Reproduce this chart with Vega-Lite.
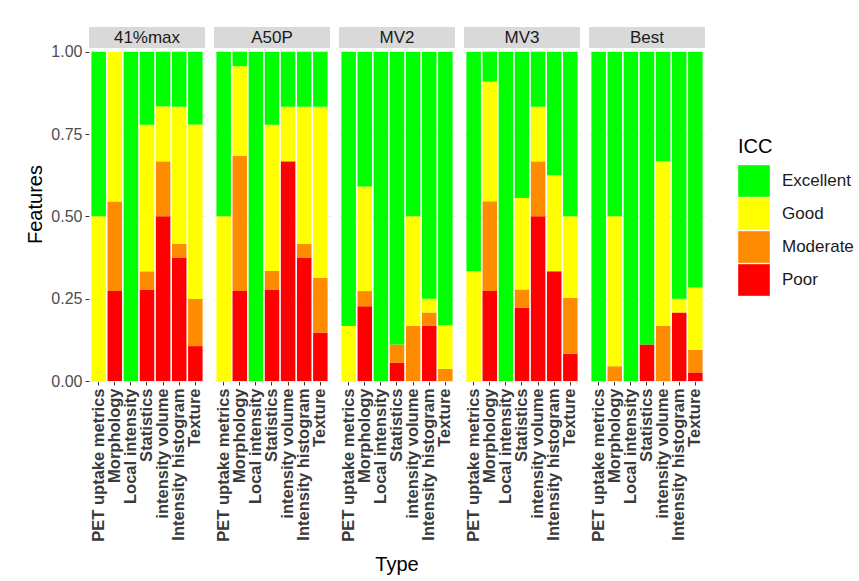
{
  "$schema": "https://vega.github.io/schema/vega-lite/v6.json",
  "padding": {"left": 25, "top": 27, "right": 5, "bottom": 5},
  "background": "white",
  "data": {"values": [
    {"Method": "41%max", "Type": "PET uptake metrics", "ICC": "Good", "value": 0.5},
    {"Method": "41%max", "Type": "PET uptake metrics", "ICC": "Excellent", "value": 0.5},
    {"Method": "41%max", "Type": "Morphology", "ICC": "Poor", "value": 0.273},
    {"Method": "41%max", "Type": "Morphology", "ICC": "Moderate", "value": 0.272},
    {"Method": "41%max", "Type": "Morphology", "ICC": "Good", "value": 0.455},
    {"Method": "41%max", "Type": "Local intensity", "ICC": "Excellent", "value": 1.0},
    {"Method": "41%max", "Type": "Statistics", "ICC": "Poor", "value": 0.278},
    {"Method": "41%max", "Type": "Statistics", "ICC": "Moderate", "value": 0.055},
    {"Method": "41%max", "Type": "Statistics", "ICC": "Good", "value": 0.445},
    {"Method": "41%max", "Type": "Statistics", "ICC": "Excellent", "value": 0.222},
    {"Method": "41%max", "Type": "intensity volume", "ICC": "Poor", "value": 0.5},
    {"Method": "41%max", "Type": "intensity volume", "ICC": "Moderate", "value": 0.167},
    {"Method": "41%max", "Type": "intensity volume", "ICC": "Good", "value": 0.167},
    {"Method": "41%max", "Type": "intensity volume", "ICC": "Excellent", "value": 0.166},
    {"Method": "41%max", "Type": "Intensity histogram", "ICC": "Poor", "value": 0.375},
    {"Method": "41%max", "Type": "Intensity histogram", "ICC": "Moderate", "value": 0.042},
    {"Method": "41%max", "Type": "Intensity histogram", "ICC": "Good", "value": 0.416},
    {"Method": "41%max", "Type": "Intensity histogram", "ICC": "Excellent", "value": 0.167},
    {"Method": "41%max", "Type": "Texture", "ICC": "Poor", "value": 0.106},
    {"Method": "41%max", "Type": "Texture", "ICC": "Moderate", "value": 0.143},
    {"Method": "41%max", "Type": "Texture", "ICC": "Good", "value": 0.53},
    {"Method": "41%max", "Type": "Texture", "ICC": "Excellent", "value": 0.221},

    {"Method": "A50P", "Type": "PET uptake metrics", "ICC": "Good", "value": 0.5},
    {"Method": "A50P", "Type": "PET uptake metrics", "ICC": "Excellent", "value": 0.5},
    {"Method": "A50P", "Type": "Morphology", "ICC": "Poor", "value": 0.273},
    {"Method": "A50P", "Type": "Morphology", "ICC": "Moderate", "value": 0.41},
    {"Method": "A50P", "Type": "Morphology", "ICC": "Good", "value": 0.273},
    {"Method": "A50P", "Type": "Morphology", "ICC": "Excellent", "value": 0.044},
    {"Method": "A50P", "Type": "Local intensity", "ICC": "Excellent", "value": 1.0},
    {"Method": "A50P", "Type": "Statistics", "ICC": "Poor", "value": 0.278},
    {"Method": "A50P", "Type": "Statistics", "ICC": "Moderate", "value": 0.056},
    {"Method": "A50P", "Type": "Statistics", "ICC": "Good", "value": 0.444},
    {"Method": "A50P", "Type": "Statistics", "ICC": "Excellent", "value": 0.222},
    {"Method": "A50P", "Type": "intensity volume", "ICC": "Poor", "value": 0.667},
    {"Method": "A50P", "Type": "intensity volume", "ICC": "Good", "value": 0.166},
    {"Method": "A50P", "Type": "intensity volume", "ICC": "Excellent", "value": 0.167},
    {"Method": "A50P", "Type": "Intensity histogram", "ICC": "Poor", "value": 0.375},
    {"Method": "A50P", "Type": "Intensity histogram", "ICC": "Moderate", "value": 0.042},
    {"Method": "A50P", "Type": "Intensity histogram", "ICC": "Good", "value": 0.416},
    {"Method": "A50P", "Type": "Intensity histogram", "ICC": "Excellent", "value": 0.167},
    {"Method": "A50P", "Type": "Texture", "ICC": "Poor", "value": 0.147},
    {"Method": "A50P", "Type": "Texture", "ICC": "Moderate", "value": 0.166},
    {"Method": "A50P", "Type": "Texture", "ICC": "Good", "value": 0.52},
    {"Method": "A50P", "Type": "Texture", "ICC": "Excellent", "value": 0.167},

    {"Method": "MV2", "Type": "PET uptake metrics", "ICC": "Good", "value": 0.167},
    {"Method": "MV2", "Type": "PET uptake metrics", "ICC": "Excellent", "value": 0.833},
    {"Method": "MV2", "Type": "Morphology", "ICC": "Poor", "value": 0.227},
    {"Method": "MV2", "Type": "Morphology", "ICC": "Moderate", "value": 0.046},
    {"Method": "MV2", "Type": "Morphology", "ICC": "Good", "value": 0.318},
    {"Method": "MV2", "Type": "Morphology", "ICC": "Excellent", "value": 0.409},
    {"Method": "MV2", "Type": "Local intensity", "ICC": "Excellent", "value": 1.0},
    {"Method": "MV2", "Type": "Statistics", "ICC": "Poor", "value": 0.055},
    {"Method": "MV2", "Type": "Statistics", "ICC": "Moderate", "value": 0.056},
    {"Method": "MV2", "Type": "Statistics", "ICC": "Excellent", "value": 0.889},
    {"Method": "MV2", "Type": "intensity volume", "ICC": "Moderate", "value": 0.167},
    {"Method": "MV2", "Type": "intensity volume", "ICC": "Good", "value": 0.333},
    {"Method": "MV2", "Type": "intensity volume", "ICC": "Excellent", "value": 0.5},
    {"Method": "MV2", "Type": "Intensity histogram", "ICC": "Poor", "value": 0.167},
    {"Method": "MV2", "Type": "Intensity histogram", "ICC": "Moderate", "value": 0.041},
    {"Method": "MV2", "Type": "Intensity histogram", "ICC": "Good", "value": 0.042},
    {"Method": "MV2", "Type": "Intensity histogram", "ICC": "Excellent", "value": 0.75},
    {"Method": "MV2", "Type": "Texture", "ICC": "Moderate", "value": 0.037},
    {"Method": "MV2", "Type": "Texture", "ICC": "Good", "value": 0.132},
    {"Method": "MV2", "Type": "Texture", "ICC": "Excellent", "value": 0.831},

    {"Method": "MV3", "Type": "PET uptake metrics", "ICC": "Good", "value": 0.333},
    {"Method": "MV3", "Type": "PET uptake metrics", "ICC": "Excellent", "value": 0.667},
    {"Method": "MV3", "Type": "Morphology", "ICC": "Poor", "value": 0.273},
    {"Method": "MV3", "Type": "Morphology", "ICC": "Moderate", "value": 0.273},
    {"Method": "MV3", "Type": "Morphology", "ICC": "Good", "value": 0.363},
    {"Method": "MV3", "Type": "Morphology", "ICC": "Excellent", "value": 0.091},
    {"Method": "MV3", "Type": "Local intensity", "ICC": "Excellent", "value": 1.0},
    {"Method": "MV3", "Type": "Statistics", "ICC": "Poor", "value": 0.222},
    {"Method": "MV3", "Type": "Statistics", "ICC": "Moderate", "value": 0.056},
    {"Method": "MV3", "Type": "Statistics", "ICC": "Good", "value": 0.278},
    {"Method": "MV3", "Type": "Statistics", "ICC": "Excellent", "value": 0.444},
    {"Method": "MV3", "Type": "intensity volume", "ICC": "Poor", "value": 0.5},
    {"Method": "MV3", "Type": "intensity volume", "ICC": "Moderate", "value": 0.167},
    {"Method": "MV3", "Type": "intensity volume", "ICC": "Good", "value": 0.166},
    {"Method": "MV3", "Type": "intensity volume", "ICC": "Excellent", "value": 0.167},
    {"Method": "MV3", "Type": "Intensity histogram", "ICC": "Poor", "value": 0.333},
    {"Method": "MV3", "Type": "Intensity histogram", "ICC": "Good", "value": 0.292},
    {"Method": "MV3", "Type": "Intensity histogram", "ICC": "Excellent", "value": 0.375},
    {"Method": "MV3", "Type": "Texture", "ICC": "Poor", "value": 0.083},
    {"Method": "MV3", "Type": "Texture", "ICC": "Moderate", "value": 0.17},
    {"Method": "MV3", "Type": "Texture", "ICC": "Good", "value": 0.247},
    {"Method": "MV3", "Type": "Texture", "ICC": "Excellent", "value": 0.5},

    {"Method": "Best", "Type": "PET uptake metrics", "ICC": "Excellent", "value": 1.0},
    {"Method": "Best", "Type": "Morphology", "ICC": "Moderate", "value": 0.045},
    {"Method": "Best", "Type": "Morphology", "ICC": "Good", "value": 0.455},
    {"Method": "Best", "Type": "Morphology", "ICC": "Excellent", "value": 0.5},
    {"Method": "Best", "Type": "Local intensity", "ICC": "Excellent", "value": 1.0},
    {"Method": "Best", "Type": "Statistics", "ICC": "Poor", "value": 0.111},
    {"Method": "Best", "Type": "Statistics", "ICC": "Excellent", "value": 0.889},
    {"Method": "Best", "Type": "intensity volume", "ICC": "Moderate", "value": 0.167},
    {"Method": "Best", "Type": "intensity volume", "ICC": "Good", "value": 0.5},
    {"Method": "Best", "Type": "intensity volume", "ICC": "Excellent", "value": 0.333},
    {"Method": "Best", "Type": "Intensity histogram", "ICC": "Poor", "value": 0.208},
    {"Method": "Best", "Type": "Intensity histogram", "ICC": "Good", "value": 0.042},
    {"Method": "Best", "Type": "Intensity histogram", "ICC": "Excellent", "value": 0.75},
    {"Method": "Best", "Type": "Texture", "ICC": "Poor", "value": 0.026},
    {"Method": "Best", "Type": "Texture", "ICC": "Moderate", "value": 0.069},
    {"Method": "Best", "Type": "Texture", "ICC": "Good", "value": 0.189},
    {"Method": "Best", "Type": "Texture", "ICC": "Excellent", "value": 0.716}
  ]},
  "facet": {
    "column": {
      "field": "Method", "type": "nominal",
      "sort": ["41%max", "A50P", "MV2", "MV3", "Best"],
      "title": "Type",
      "header": {
        "labels": false,
        "titleOrient": "bottom",
        "titleFont": "Liberation Sans",
        "titleFontSize": 20,
        "titleFontWeight": "normal",
        "titleColor": "black",
        "titlePadding": 3
      }
    }
  },
  "spacing": 9,
  "spec": {
    "width": 116,
    "height": 354,
    "layer": [
      {
        "mark": {"type": "bar"},
        "encoding": {
          "x": {
            "field": "Type", "type": "nominal",
            "sort": ["PET uptake metrics", "Morphology", "Local intensity", "Statistics", "intensity volume", "Intensity histogram", "Texture"],
            "scale": {"paddingInner": 0.1, "paddingOuter": 0.15},
            "title": null
          },
          "y": {
            "field": "value", "type": "quantitative", "stack": "zero",
            "scale": {"domain": [0, 1.075], "nice": false, "zero": true},
            "axis": {"values": [0, 0.25, 0.5, 0.75, 1], "format": ".2f"},
            "title": "Features"
          },
          "color": {
            "field": "ICC", "type": "nominal",
            "scale": {"domain": ["Excellent", "Good", "Moderate", "Poor"], "range": ["#00FF00", "#FFFF00", "#FF8C00", "#FF0000"]},
            "legend": {"orient": "none", "legendX": 649, "legendY": 110}
          },
          "order": {"field": "ICC", "type": "nominal", "sort": "descending"}
        }
      },
      {
        "transform": [{"aggregate": [{"op": "count", "as": "n"}], "groupby": ["Method"]}],
        "mark": {"type": "rect", "color": "#d9d9d9"},
        "encoding": {
          "y": {"datum": 1.011, "type": "quantitative", "title": "Features"},
          "y2": {"datum": 1.075}
        }
      },
      {
        "transform": [{"aggregate": [{"op": "count", "as": "n"}], "groupby": ["Method"]}],
        "mark": {"type": "text", "font": "Liberation Sans", "fontSize": 17, "color": "#1a1a1a", "baseline": "middle", "align": "center"},
        "encoding": {
          "y": {"datum": 1.043, "type": "quantitative", "title": "Features"},
          "text": {"field": "Method", "type": "nominal"}
        }
      }
    ]
  },
  "config": {
    "font": "Liberation Sans",
    "view": {"stroke": null},
    "axis": {
      "domain": false,
      "tickColor": "#333333",
      "tickSize": 4,
      "labelFont": "Liberation Sans",
      "titleFont": "Liberation Sans",
      "titleFontWeight": "normal",
      "titleFontSize": 20,
      "titleColor": "black",
      "gridColor": "#ebebeb"
    },
    "axisX": {
      "labelAngle": -90,
      "labelFontSize": 16.5,
      "labelFontWeight": "bold",
      "labelColor": "#3a3a3a",
      "labelPadding": 3,
      "grid": false
    },
    "axisY": {
      "labelFontSize": 16,
      "labelColor": "#4d4d4d",
      "labelPadding": 3,
      "titlePadding": 5,
      "grid": true
    },
    "legend": {
      "titleFont": "Liberation Sans",
      "titleFontSize": 20,
      "titleFontWeight": "normal",
      "titleColor": "black",
      "titlePadding": 8,
      "labelFont": "Liberation Sans",
      "labelFontSize": 17,
      "labelColor": "#1a1a1a",
      "labelOffset": 12,
      "symbolType": "square",
      "symbolSize": 1000,
      "symbolStrokeWidth": 0,
      "rowPadding": 1
    }
  }
}
